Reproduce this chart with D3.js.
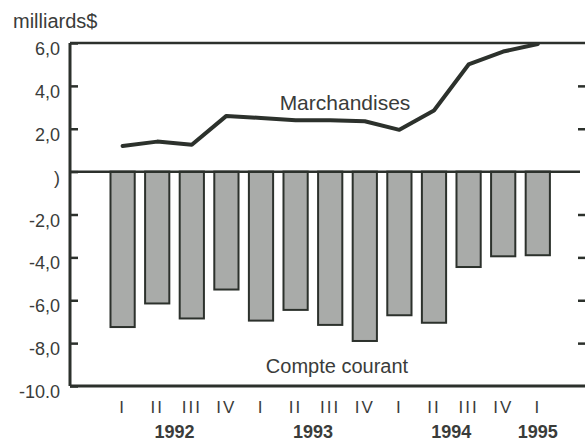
<!DOCTYPE html>
<html>
<head>
<meta charset="utf-8">
<script src="https://cdnjs.cloudflare.com/ajax/libs/d3/7.8.5/d3.min.js"></script>
<style>
body { margin:0; background:#fff; }
svg text { font-family: "Liberation Sans", Arial, sans-serif; fill:#3a3c3a; }
</style>
</head>
<body>
<svg id="chart" width="585" height="444"></svg>
<script>
var quarters = ["I","II","III","IV","I","II","III","IV","I","II","III","IV","I"];
var years = ["1992","1993","1994","1995"];
var yearOf = [0,0,0,0,1,1,1,1,2,2,2,2,3];
var compteCourant = [-7.25,-6.15,-6.85,-5.5,-6.95,-6.45,-7.15,-7.9,-6.7,-7.05,-4.45,-3.95,-3.9];
var marchandises = [1.2,1.4,1.25,2.6,2.5,2.4,2.4,2.35,1.95,2.85,5.0,5.6,5.95];
var yTicks = [6,4,2,0,-2,-4,-6,-8,-10];
var yTickLabels = ["6,0","4,0","2,0",")","-2,0","-4,0","-6,0","-8,0","-10.0"];

var ink = "#2c312c";

var svg = d3.select("#chart");

var y = d3.scaleLinear().domain([-10, 6]).range([386, 43]);
var x = d3.scaleBand().domain(d3.range(quarters.length))
          .range([93.2, 567.2]).paddingInner(0.3).paddingOuter(0.5);

var left = 70, right = 585;

// bars
svg.append("g").selectAll("rect")
  .data(compteCourant)
  .enter().append("rect")
  .attr("x", function(d,i){ return x(i); })
  .attr("y", y(0))
  .attr("width", x.bandwidth())
  .attr("height", function(d){ return y(d) - y(0); })
  .attr("fill", "#a9aba9")
  .attr("stroke", ink)
  .attr("stroke-width", 2);

// frame
svg.append("line").attr("x1", left).attr("x2", right).attr("y1", y(6)).attr("y2", y(6))
  .attr("stroke", ink).attr("stroke-width", 2.5);
svg.append("line").attr("x1", left).attr("x2", right).attr("y1", y(-10)).attr("y2", y(-10))
  .attr("stroke", ink).attr("stroke-width", 3);
svg.append("line").attr("x1", left).attr("x2", 580).attr("y1", y(0)).attr("y2", y(0))
  .attr("stroke", ink).attr("stroke-width", 2.5);

// left axis
var yAxis = d3.axisRight(y).tickValues(yTicks).tickSize(8).tickFormat("");
var ga = svg.append("g").attr("transform", "translate(" + left + ",0)").call(yAxis);
ga.select(".domain").attr("stroke", ink).attr("stroke-width", 3).attr("d", "M0," + y(6) + "V" + y(-10));
ga.selectAll(".tick line").attr("stroke", ink).attr("stroke-width", 2.5);

// right ticks
var gr = svg.append("g").attr("transform", "translate(" + right + ",0)")
  .call(d3.axisLeft(y).tickValues([4,2,-2,-4,-6,-8]).tickSize(7).tickFormat(""));
gr.select(".domain").remove();
gr.selectAll(".tick line").attr("stroke", ink).attr("stroke-width", 2.5);

svg.append("g").selectAll("text")
  .data(yTicks)
  .enter().append("text")
  .attr("x", 60)
  .attr("y", function(d){ return y(d) + 12; })
  .attr("text-anchor", "end")
  .style("font-size", "18px")
  .text(function(d,i){ return yTickLabels[i]; });

svg.append("text").attr("x", 13).attr("y", 27.5)
  .style("font-size", "20px").text("milliards$");

// line
var line = d3.line()
  .x(function(d,i){ return x(i) + x.bandwidth()/2; })
  .y(function(d){ return y(d); });

svg.append("path")
  .datum(marchandises)
  .attr("d", line)
  .attr("fill", "none")
  .attr("stroke", ink)
  .attr("stroke-width", 4)
  .attr("stroke-linejoin", "round")
  .attr("stroke-linecap", "round");

svg.append("text").attr("x", 345).attr("y", 110)
  .attr("text-anchor", "middle")
  .style("font-size", "21px").text("Marchandises");

svg.append("text").attr("x", 337).attr("y", 373)
  .attr("text-anchor", "middle")
  .style("font-size", "20px").text("Compte courant");

// x labels
svg.append("g").selectAll("text")
  .data(quarters)
  .enter().append("text")
  .attr("x", function(d,i){ return x(i) + x.bandwidth()/2; })
  .attr("y", 413)
  .attr("text-anchor", "middle")
  .style("font-size", "17px")
  .style("letter-spacing", "2px")
  .text(function(d){ return d; });

svg.append("g").selectAll("text")
  .data(years)
  .enter().append("text")
  .attr("x", function(d,k){
    var idx = d3.range(quarters.length).filter(function(i){ return yearOf[i] == k; });
    var a = x(idx[0]), b = x(idx[idx.length-1]) + x.bandwidth();
    return (a + b)/2;
  })
  .attr("y", 438)
  .attr("text-anchor", "middle")
  .style("font-size", "18px")
  .style("font-weight", "bold")
  .text(function(d){ return d; });
</script>
</body>
</html>
